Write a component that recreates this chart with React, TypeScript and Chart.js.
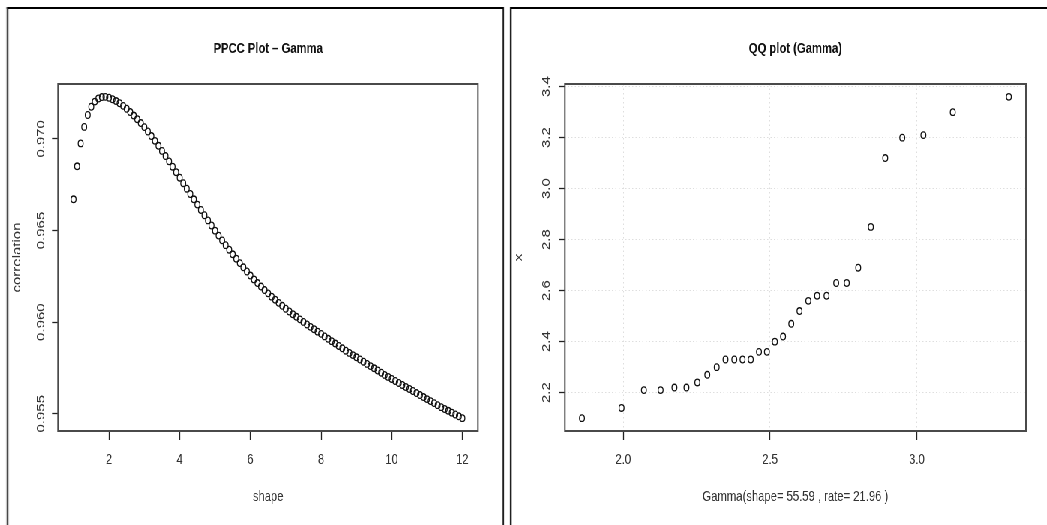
import React, { useEffect, useRef } from "react";
import { Chart, registerables } from "chart.js";

Chart.register(...registerables);

// ---------------- data ----------------
const PPCC_TITLE = "PPCC Plot \u2013 Gamma";
const PPCC_X_LABEL = "shape";
const PPCC_Y_LABEL = "correlation";
const PPCC_SHAPE = [
  1.0, 1.1, 1.2, 1.3, 1.4, 1.5, 1.6, 1.7, 1.8, 1.9,
  2.0, 2.1, 2.2, 2.3, 2.4, 2.5, 2.6, 2.7, 2.8, 2.9,
  3.0, 3.1, 3.2, 3.3, 3.4, 3.5, 3.6, 3.7, 3.8, 3.9,
  4.0, 4.1, 4.2, 4.3, 4.4, 4.5, 4.6, 4.7, 4.8, 4.9,
  5.0, 5.1, 5.2, 5.3, 5.4, 5.5, 5.6, 5.7, 5.8, 5.9,
  6.0, 6.1, 6.2, 6.3, 6.4, 6.5, 6.6, 6.7, 6.8, 6.9,
  7.0, 7.1, 7.2, 7.3, 7.4, 7.5, 7.6, 7.7, 7.8, 7.9,
  8.0, 8.1, 8.2, 8.3, 8.4, 8.5, 8.6, 8.7, 8.8, 8.9,
  9.0, 9.1, 9.2, 9.3, 9.4, 9.5, 9.6, 9.7, 9.8, 9.9,
  10.0, 10.1, 10.2, 10.3, 10.4, 10.5, 10.6, 10.7, 10.8, 10.9,
  11.0, 11.1, 11.2, 11.3, 11.4, 11.5, 11.6, 11.7, 11.8, 11.9,
  12.0,
];
const PPCC_CORR = [
  0.9667, 0.9685, 0.96975, 0.97065, 0.9713, 0.97175, 0.97203, 0.9722, 0.97228, 0.97229,
  0.97224, 0.97216, 0.97206, 0.97194, 0.9718, 0.97164, 0.97146, 0.97127, 0.97107, 0.97086,
  0.97064, 0.9704, 0.97015, 0.96989, 0.96962, 0.96934, 0.96906, 0.96877, 0.96848, 0.96818,
  0.96788, 0.96758, 0.96728, 0.96699, 0.9667, 0.96641, 0.96612, 0.96583, 0.96555, 0.96527,
  0.96499, 0.96472, 0.96446, 0.9642, 0.96395, 0.9637, 0.96346, 0.96322, 0.96299, 0.96276,
  0.96254, 0.96233, 0.96213, 0.96194, 0.96175, 0.96157, 0.96139, 0.96122, 0.96105, 0.96089,
  0.96073, 0.96058, 0.96043, 0.96029, 0.96015, 0.96001, 0.95987, 0.95974, 0.95961, 0.95948,
  0.95936, 0.95922, 0.95909, 0.95896, 0.95883, 0.9587, 0.95857, 0.95844, 0.95832, 0.9582,
  0.95808, 0.95796, 0.95784, 0.95772, 0.9576, 0.95748, 0.95736, 0.95724, 0.95712, 0.95701,
  0.9569, 0.95679, 0.95668, 0.95657, 0.95646, 0.95635, 0.95624, 0.95613, 0.95602, 0.95591,
  0.9558, 0.95569, 0.95558, 0.95547, 0.95536, 0.95526, 0.95516, 0.95506, 0.95496, 0.95486,
  0.95476,
];
const PPCC_X_TICKS = [2, 4, 6, 8, 10, 12];
const PPCC_X_TICK_LABELS = ["2", "4", "6", "8", "10", "12"];
const PPCC_Y_TICKS = [0.955, 0.96, 0.965, 0.97];
const PPCC_Y_TICK_LABELS = ["0.955", "0.960", "0.965", "0.970"];

const QQ_TITLE = "QQ plot (Gamma)";
const QQ_X_LABEL = "Gamma(shape= 55.59 , rate= 21.96 )";
const QQ_Y_LABEL = "x";
const QQ_THEORETICAL = [
  1.859, 1.994, 2.07, 2.127, 2.174, 2.215, 2.252, 2.286, 2.318, 2.348,
  2.378, 2.406, 2.434, 2.462, 2.489, 2.516, 2.544, 2.572, 2.6, 2.63,
  2.66, 2.692, 2.725, 2.761, 2.8, 2.843, 2.892, 2.95, 3.022, 3.122,
  3.313,
];
const QQ_SAMPLE = [
  2.1, 2.14, 2.21, 2.21, 2.22, 2.22, 2.24, 2.27, 2.3, 2.33,
  2.33, 2.33, 2.33, 2.36, 2.36, 2.4, 2.42, 2.47, 2.52, 2.56,
  2.58, 2.58, 2.63, 2.63, 2.69, 2.85, 3.12, 3.2, 3.21, 3.3,
  3.36,
];
const QQ_X_TICKS = [2.0, 2.5, 3.0];
const QQ_X_TICK_LABELS = ["2.0", "2.5", "3.0"];
const QQ_Y_TICKS = [2.2, 2.4, 2.6, 2.8, 3.0, 3.2, 3.4];
const QQ_Y_TICK_LABELS = ["2.2", "2.4", "2.6", "2.8", "3.0", "3.2", "3.4"];

// ---------------- layout / style ----------------
const S = 0.75; // horizontal squeeze of the whole picture
const H = 525;
const FONT = '"Liberation Sans", Arial, Helvetica, sans-serif';
const AREA_BOTTOM = 431;
const Y_AXIS_W = 77.3;

function rRange(values: number[]) {
  const lo = Math.min(...values);
  const hi = Math.max(...values);
  const pad = (hi - lo) * 0.04;
  return [lo - pad, hi + pad];
}

const framePlugin = {
  id: "rframe",
  afterDatasetsDraw(chart: any) {
    const { ctx, chartArea } = chart;
    const { left, top, right, bottom } = chartArea;
    ctx.save();
    ctx.strokeStyle = "#4a4a4a";
    ctx.lineWidth = 2;
    ctx.strokeRect(left, top, right - left, bottom - top);
    ctx.restore();
  },
};

type Cfg = {
  xs: number[];
  ys: number[];
  xTicks: number[];
  xLabels: string[];
  yTicks: number[];
  yLabels: string[];
  title: string;
  xTitle: string;
  yTitle: string;
  grid: boolean;
  padRight: number;
  yTickPad: number;
  yTitlePad: number;
};

function buildConfig(c: Cfg): any {
  const [xMin, xMax] = rRange(c.xs);
  const [yMin, yMax] = rRange(c.ys);
  const data = c.xs.map((x, i) => ({ x, y: c.ys[i] }));
  const font = { family: FONT, size: 15 };
  const gridOpts = {
    display: true,
    drawOnChartArea: c.grid,
    drawTicks: true,
    tickLength: 9,
    tickColor: "#222",
    tickWidth: 1.3,
    color: "#dedede",
    lineWidth: 1,
  };
  return {
    type: "scatter",
    data: {
      datasets: [
        {
          data,
          showLine: false,
          pointStyle: "circle",
          pointRadius: 3.3,
          pointBorderWidth: 1.3,
          pointBorderColor: "#111",
          pointBackgroundColor: "rgba(0,0,0,0)",
          pointHoverRadius: 3.3,
        },
      ],
    },
    options: {
      responsive: false,
      animation: false,
      devicePixelRatio: 1,
      events: [],
      layout: { padding: { left: 0, right: c.padRight, top: 0, bottom: 0 } },
      plugins: {
        legend: { display: false },
        tooltip: { enabled: false },
        title: {
          display: true,
          text: c.title,
          fullSize: false,
          color: "#111",
          font: { family: FONT, size: 15, weight: "bold" },
          padding: { top: 40, bottom: 26 },
        },
      },
      scales: {
        x: {
          type: "linear",
          bounds: "data",
          min: xMin,
          max: xMax,
          afterBuildTicks: (s: any) => {
            s.ticks = c.xTicks.map((v) => ({ value: v }));
          },
          afterFit: (s: any) => {
            s.height = H - AREA_BOTTOM;
          },
          ticks: {
            autoSkip: false,
            minRotation: 0,
            maxRotation: 0,
            padding: 11,
            color: "#333",
            font,
            callback: (v: number) => {
              const i = c.xTicks.findIndex((t) => Math.abs(t - v) < 1e-9);
              return i >= 0 ? c.xLabels[i] : "";
            },
          },
          grid: gridOpts,
          border: { display: false, dash: [1.5, 3] },
          title: {
            display: true,
            text: c.xTitle,
            color: "#333",
            font,
            padding: { top: 0, bottom: 19 },
          },
        },
        y: {
          type: "linear",
          bounds: "data",
          min: yMin,
          max: yMax,
          afterBuildTicks: (s: any) => {
            s.ticks = c.yTicks.map((v) => ({ value: v }));
          },
          afterFit: (s: any) => {
            s.width = Y_AXIS_W;
          },
          ticks: {
            autoSkip: false,
            minRotation: 90,
            maxRotation: 90,
            crossAlign: "center",
            padding: c.yTickPad,
            color: "#333",
            font,
            callback: (v: number) => {
              const i = c.yTicks.findIndex((t) => Math.abs(t - v) < 1e-9);
              return i >= 0 ? c.yLabels[i] : "";
            },
          },
          grid: { ...gridOpts, tickLength: 8 },
          border: { display: false, dash: [1.5, 3] },
          title: {
            display: true,
            text: c.yTitle,
            color: "#333",
            font,
            padding: { top: c.yTitlePad, bottom: 0 },
          },
        },
      },
    },
    plugins: [framePlugin],
  };
}

function RChart({ left, width, cfg }: { left: number; width: number; cfg: Cfg }) {
  const ref = useRef<HTMLCanvasElement | null>(null);
  useEffect(() => {
    if (!ref.current) return;
    const chart = new Chart(ref.current, buildConfig(cfg));
    return () => chart.destroy();
  }, []);
  return (
    <canvas
      ref={ref}
      width={width}
      height={H}
      style={{ position: "absolute", left, top: 0, width, height: H, display: "block" }}
    />
  );
}

export default function App() {
  const totalW = 1047 / S;
  const leftCanvasW = 676;
  const rightCanvasW = Math.round(totalW - leftCanvasW);
  const ppcc: Cfg = {
    xs: PPCC_SHAPE,
    ys: PPCC_CORR,
    xTicks: PPCC_X_TICKS,
    xLabels: PPCC_X_TICK_LABELS,
    yTicks: PPCC_Y_TICKS,
    yLabels: PPCC_Y_TICK_LABELS,
    title: PPCC_TITLE,
    xTitle: PPCC_X_LABEL,
    yTitle: PPCC_Y_LABEL,
    grid: false,
    padRight: leftCanvasW - 478 / S,
    yTickPad: -4,
    yTitlePad: 14.3,
  };
  const qq: Cfg = {
    xs: QQ_THEORETICAL,
    ys: QQ_SAMPLE,
    xTicks: QQ_X_TICKS,
    xLabels: QQ_X_TICK_LABELS,
    yTicks: QQ_Y_TICKS,
    yLabels: QQ_Y_TICK_LABELS,
    title: QQ_TITLE,
    xTitle: QQ_X_LABEL,
    yTitle: QQ_Y_LABEL,
    grid: true,
    padRight: rightCanvasW - (1026 / S - leftCanvasW),
    yTickPad: 5.9,
    yTitlePad: 7,
  };
  return (
    <div
      style={{
        position: "absolute",
        left: 0,
        top: 0,
        width: 1047,
        height: H,
        overflow: "hidden",
        background: "#fff",
      }}
    >
      <div
        style={{
          position: "absolute",
          left: 0,
          top: 0,
          width: totalW,
          height: H,
          transform: `scaleX(${S})`,
          transformOrigin: "0 0",
        }}
      >
        <div
          style={{
            position: "absolute",
            left: 7 / S,
            top: 6.5,
            width: (504 - 7) / S,
            height: 600,
            boxSizing: "border-box",
            borderLeft: `${2 / S}px solid #000`,
            borderRight: `${2 / S}px solid #000`,
            borderTop: "2px solid #000",
          }}
        />
        <div
          style={{
            position: "absolute",
            left: 510 / S,
            top: 6.5,
            width: 800,
            height: 600,
            boxSizing: "border-box",
            borderLeft: `${2 / S}px solid #000`,
            borderTop: "2px solid #000",
          }}
        />
        <RChart left={0} width={leftCanvasW} cfg={ppcc} />
        <RChart left={leftCanvasW} width={rightCanvasW} cfg={qq} />
      </div>
    </div>
  );
}
